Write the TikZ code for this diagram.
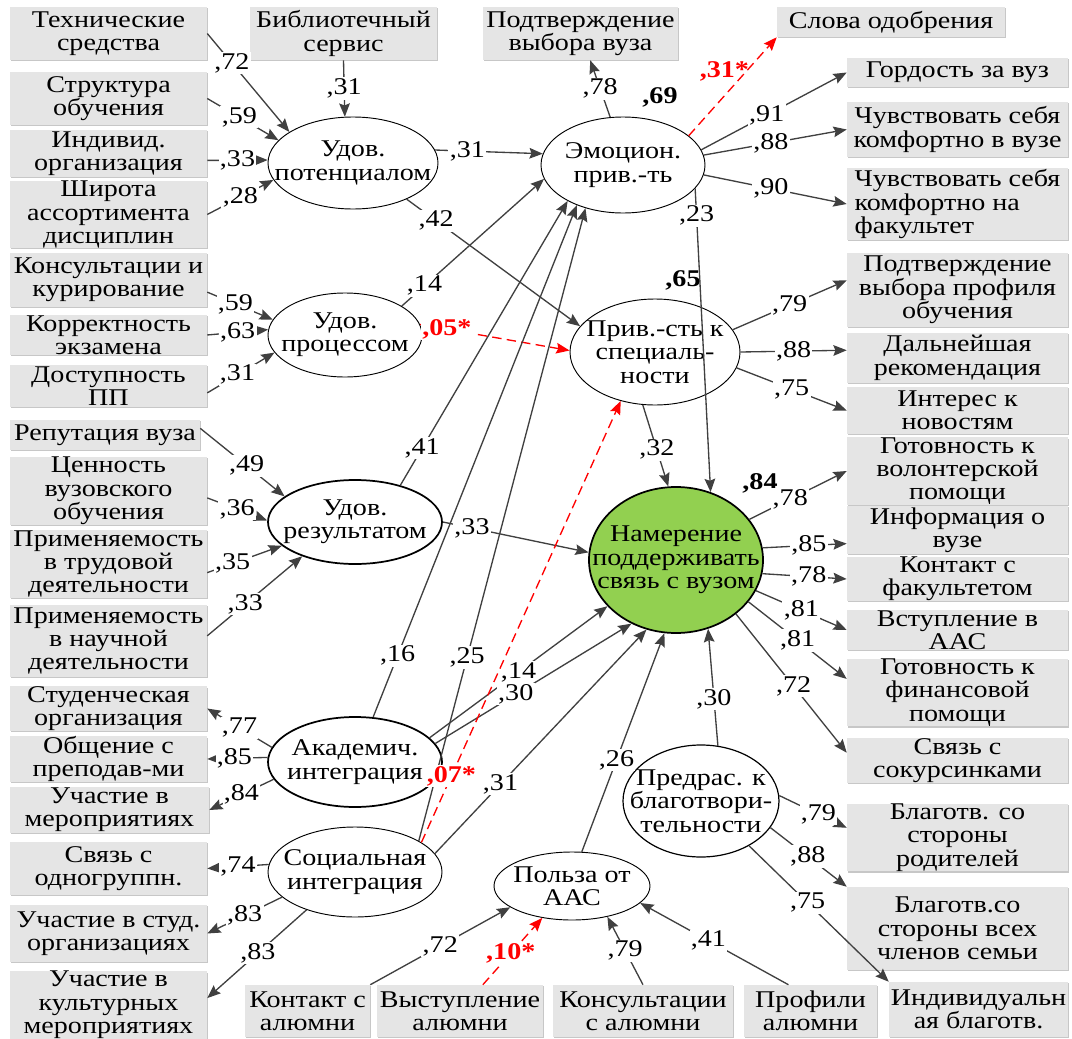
\documentclass[tikz,border=0pt]{standalone}
\usepackage{fontspec}
\setmainfont{Liberation Serif}[FakeStretch=1.17]
\usetikzlibrary{arrows.meta,shapes.geometric,shadows}
\definecolor{boxgray}{RGB}{229,229,229}
\definecolor{linegray}{RGB}{64,64,64}
\definecolor{aimgreen}{RGB}{146,208,80}

\begin{document}
\begin{tikzpicture}[x=0.75pt,y=-0.75pt,
    font=\fontsize{18}{17.5}\selectfont,
    box/.style 2 args={fill=boxgray,inner sep=0pt,align=center,
      minimum width=#1*0.75pt,minimum height=#2*0.75pt,
      drop shadow={shadow xshift=1pt,shadow yshift=-1pt,fill=black!22,opacity=1}},
    oval/.style 2 args={ellipse,draw,line width=.7pt,inner sep=0pt,
      minimum width=#1*1.5pt,minimum height=#2*1.5pt},
    arr/.style={draw=linegray,line width=1pt,-{Stealth[length=10pt,width=8pt,inset=1.5pt]}},
    sig/.style={draw=red,line width=1pt,dash pattern=on 7pt off 4pt,
      -{Stealth[length=10pt,width=8pt,inset=1.5pt]},red},
    coef/.style={fill=white,inner sep=1pt},
    sigl/.style={fill=white,inner sep=1pt,text=red,font=\fontsize{18}{17.5}\selectfont\bfseries},
    rsq/.style={inner sep=1pt,font=\fontsize{18}{17.5}\selectfont\bfseries}]
  \useasboundingbox (0,0) rectangle (1072,1039);

  % left column
  \node[box={197}{53}] (tech) at (108.5,33.5) {Технические\\средства};
  \node[box={197}{53}] (struct) at (108.5,98.5) {Структура\\обучения};
  \node[box={197}{47}] (indiv) at (108.5,153.5) {Индивид.\\организация};
  \node[box={197}{65}] (shir) at (108.5,214.5) {Широта\\ассортимента\\дисциплин};
  \node[box={197}{54}] (kons) at (108.5,280) {Консультации и\\курирование};
  \node[box={197}{40}] (korr) at (108.5,335) {Корректность\\экзамена};
  \node[box={197}{42}] (dost) at (108.5,386) {Доступность\\ПП};
  \node[box={190}{30}] (rep) at (105,435) {Репутация вуза};
  \node[box={197}{68}] (cen) at (108.5,491) {Ценность\\вузовского\\обучения};
  \node[box={197}{68}] (trud) at (108.5,564) {Применяемость\\в трудовой\\деятельности};
  \node[box={197}{72}] (nauch) at (108.5,641) {Применяемость\\в научной\\деятельности};
  \node[box={197}{43}] (stud) at (108.5,708.5) {Студенческая\\организация};
  \node[box={197}{42}] (obsch) at (108.5,759) {Общение с\\преподав-ми};
  \node[box={199}{46}] (uch) at (109.5,810) {Участие в\\мероприятиях};
  \node[box={197}{53}] (odn) at (108.5,868.5) {Связь с\\одногруппн.};
  \node[box={197}{57}] (studorg) at (108.5,933.5) {Участие в студ.\\организациях};
  \node[box={197}{64}] (kult) at (108.5,1005) {Участие в\\культурных\\мероприятиях};

  % top row
  \node[box={187}{53}] (lib) at (343.5,33.5) {Библиотечный\\сервис};
  \node[box={195}{53}] (podtv) at (580.5,33.5) {Подтверждение\\выбора вуза};
  \node[box={228}{30}] (slova) at (891,22) {Слова одобрения};

  % right column
  \node[box={221}{29}] (gord) at (957.5,72.5) {Гордость за вуз};
  \node[box={221}{55}] (kvuz) at (957.5,129.5) {Чувствовать себя\\комфортно в вузе};
  \node[box={221}{72},align=left] (kfak) at (957.5,204) {Чувствовать себя\\комфортно на\\факультет};
  \node[box={221}{74}] (prof) at (957.5,290) {Подтверждение\\выбора профиля\\обучения};
  \node[box={221}{50}] (dal) at (957.5,358) {Дальнейшая\\рекомендация};
  \node[box={221}{47}] (inter) at (957.5,410.5) {Интерес к\\новостям};
  \node[box={221}{56}] (vol) at (957.5,471) {Готовность к\\волонтерской\\помощи};
  \node[box={221}{48}] (info) at (957.5,530) {Информация о\\вузе};
  \node[box={221}{42}] (kfac) at (957.5,579) {Контакт с\\факультетом};
  \node[box={221}{40}] (vst) at (957.5,630) {Вступление в\\ААС};
  \node[box={221}{61}] (fin) at (957.5,692.5) {Готовность к\\финансовой\\помощи};
  \node[box={221}{45}] (sok) at (957.5,760.5) {Связь с\\сокурсинками};
  \node[box={221}{65}] (rod) at (957.5,837.5) {Благотв. со\\стороны\\родителей};
  \node[box={221}{83}] (vseh) at (957.5,928.5) {Благотв.со\\стороны всех\\членов семьи};
  \node[box={179}{55}] (indb) at (978.5,1009.5) {Индивидуальн\\ая благотв.};

  % bottom row
  \node[box={125}{52}] (kalum) at (307.5,1011) {Контакт с\\алюмни};
  \node[box={166}{52}] (vyst) at (460,1011) {Выступление\\алюмни};
  \node[box={180}{52}] (konsal) at (643,1011) {Консультации\\с алюмни};
  \node[box={133}{52}] (profal) at (810.5,1011) {Профили\\алюмни};

  % latent factors
  \node[oval={85}{46},label={[align=center]center:Удов.\\потенциалом}] (pot) at (353,163) {};
  \node[oval={82}{48},label={[align=center]center:Эмоцион.\\прив.-ть}] (emo) at (623,165) {};
  \node[oval={77}{42},label={[align=center]center:Удов.\\процессом}] (proc) at (345,335) {};
  \node[oval={85}{53},label={[align=center]center:Прив.-сть к\\специаль-\\ности}] (spec) at (655,352) {};
  \node[oval={87}{42},line width=1.3pt,label={[align=center]center:Удов.\\результатом}] (res) at (355,522) {};
  \node[oval={87}{73},line width=1.3pt,fill=aimgreen,
    label={[align=center]center:Намерение\\поддерживать\\связь с вузом}] (aim) at (676,560) {};
  \node[oval={87}{45},line width=1.3pt,label={[align=center]center:Академич.\\интеграция}] (acad) at (355,762) {};
  \node[oval={87}{45},label={[align=center]center:Социальная\\интеграция}] (soc) at (355,872) {};
  \node[oval={78}{34},label={[align=center]center:Польза от\\ААС}] (aac) at (572,886) {};
  \node[oval={78}{56},line width=.9pt,label={[align=center]center:Предрас. к\\благотвори-\\тельности}] (char) at (701,801) {};

  % squared multiple correlations
  \node[rsq] (r2emo) at (660,97) {,69};
  \node[rsq] (r2spec) at (683,280) {,65};
  \node[rsq] (r2aim) at (760,483) {,84};

  % indicators -> factors
  \draw[arr] (tech.east) -- node[coef,pos=.3]{,72} (pot.154);
  \draw[arr] (struct.east) -- node[coef,pos=.45]{,59} (pot.163);
  \draw[arr] (indiv.-4) -- node[coef,pos=.5]{,33} (pot.178);
  \draw[arr] (shir.east) -- node[coef,pos=.5]{,28} (pot.192);
  \draw[arr] (lib.south) -- node[coef,pos=.5]{,31} (pot.100);

  \draw[arr] (kons.-7) -- node[coef,pos=.43]{,59} (proc.168);
  \draw[arr] (korr.east) -- node[coef,pos=.5]{,63} (proc.176);
  \draw[arr] (dost.-4) -- node[coef,pos=.45]{,31} (proc.194);

  \draw[arr] (rep.4) -- node[coef,pos=.55]{,49} (res.160);
  \draw[arr] (cen.-4) -- node[coef,pos=.5]{,36} (res.179);
  \draw[arr] (trud.-5) -- node[coef,pos=.34]{,35} (res.198);
  \draw[arr] (nauch.3) -- node[coef,pos=.4]{,33} (res.213);

  \draw[arr] (kalum.north east) -- node[coef,pos=.5]{,72} (aac.199);
  \draw[sig] (vyst.49) -- node[sigl,pos=.47]{,10*} (aac.227);
  \draw[arr] (konsal.north) -- node[coef,pos=.5]{,79} (aac.319);
  \draw[arr] (profal.130) -- node[coef,pos=.54]{,41} (aac.346);

  % structural paths
  \draw[arr] (pot.9) -- node[coef,pos=.3]{,31} (emo.172);
  \draw[arr] (pot.326) -- node[coef,pos=.17]{,42} (spec.161);
  \draw[arr] (proc.27) -- node[coef,pos=.16]{,14} (emo.190);
  \draw[sig] (proc.8) -- node[sigl,pos=.18]{,05*} (spec.179);
  \draw[arr] (res.39) -- node[coef,pos=.13]{,41} (emo.213);
  \draw[arr] (res.0) -- node[coef,pos=.2]{,33} (aim.175);
  \draw[arr] (acad.68) -- node[coef,pos=.12]{,16} (emo.221);
  \draw[arr] (soc.26) -- node[coef,pos=.29]{,25} (emo.229);
  \draw[arr] (acad.18) -- node[coef,pos=.5]{,14} (aim.214);
  \draw[arr] (acad.13) -- node[coef,pos=.41]{,30} (aim.235);
  \draw[sig] (soc.24) -- node[sigl,pos=.15]{,07*} (spec.235);
  \draw[arr] (soc.13) -- node[coef,pos=.31]{,31} (aim.247);
  \draw[arr] (aac.74) -- node[coef,pos=.42]{,26} (aim.261);
  \draw[arr] (char.73) -- node[coef,pos=.4]{,30} (aim.295);
  \draw[arr] (spec.257) -- node[coef,pos=.55]{,32} (aim.96);
  \draw[arr] (emo.342) -- node[coef,pos=.09]{,23} (aim.63);

  % factors -> indicators
  \draw[arr] (emo.105) -- node[coef,pos=.5]{,78} (podtv.-70);
  \draw[sig] (emo.24) -- node[sigl,fill=none,pos=.45,xshift=-3pt,yshift=15pt]{,31*} (slova.south west);
  \draw[arr] (emo.11) -- node[coef,pos=.45]{,91} (gord.west);
  \draw[arr] (emo.7) -- node[coef,pos=.47]{,88} (kvuz.west);
  \draw[arr] (emo.353) -- node[coef,pos=.47]{,90} (kfak.west);

  \draw[arr] (spec.16) -- node[coef,pos=.5]{,79} (prof.175);
  \draw[arr] (spec.0) -- node[coef,pos=.5]{,88} (dal.176);
  \draw[arr] (spec.349) -- node[coef,pos=.5]{,75} (inter.west);

  \draw[arr] (aim.29) -- node[coef,pos=.42]{,78} (vol.west);
  \draw[arr] (aim.8) -- node[coef,pos=.55]{,85} (info.187);
  \draw[arr] (aim.351) -- node[coef,pos=.55]{,78} (kfac.west);
  \draw[arr] (aim.339) -- node[coef,pos=.5]{,81} (vst.west);
  \draw[arr] (aim.330) -- node[coef,pos=.5]{,81} (fin.173);
  \draw[arr] (aim.318) -- node[coef,pos=.52]{,72} (sok.176);

  \draw[arr] (char.4) -- node[coef,pos=.58]{,79} (rod.175);
  \draw[arr] (char.339) -- node[coef,pos=.49]{,88} (vseh.north west);
  \draw[arr] (char.317) -- node[coef,pos=.42]{,75} (indb.north west);

  \draw[arr] (acad.170) -- node[coef,pos=.5]{,77} (stud.east);
  \draw[arr] (acad.177) -- node[coef,pos=.55]{,85} (obsch.east);
  \draw[arr] (acad.192) -- node[coef,pos=.5]{,84} (uch.east);
  \draw[arr] (soc.175) -- node[coef,pos=.5]{,74} (odn.east);
  \draw[arr] (soc.199) -- node[coef,pos=.5]{,83} (studorg.east);
  \draw[arr] (soc.218) -- node[coef,pos=.49]{,83} (kult.4);
\end{tikzpicture}
\end{document}
